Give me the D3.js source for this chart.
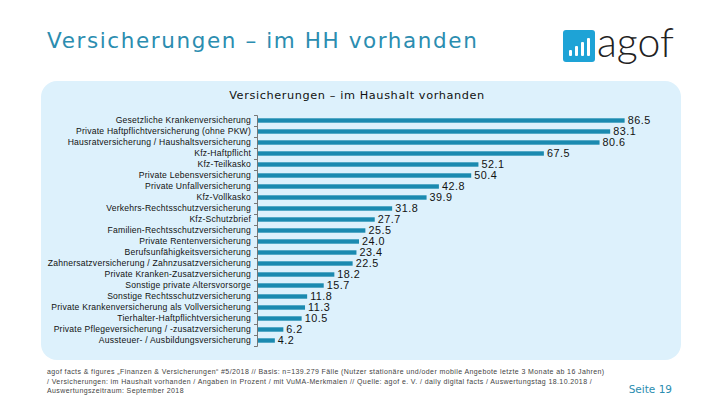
<!DOCTYPE html>
<html>
<head>
<meta charset="utf-8">
<script src="https://cdn.jsdelivr.net/npm/d3@7"></script>
<style>
  body { margin: 0; background: #fff; }
  svg { display: block; }
</style>
</head>
<body>
<div id="chart"></div>
<script>
// chart data
const categories = [
  'Gesetzliche Krankenversicherung',
  'Private Haftpflichtversicherung (ohne PKW)',
  'Hausratversicherung / Haushaltsversicherung',
  'Kfz-Haftpflicht',
  'Kfz-Teilkasko',
  'Private Lebensversicherung',
  'Private Unfallversicherung',
  'Kfz-Vollkasko',
  'Verkehrs-Rechtsschutzversicherung',
  'Kfz-Schutzbrief',
  'Familien-Rechtsschutzversicherung',
  'Private Rentenversicherung',
  'Berufsunfähigkeitsversicherung',
  'Zahnersatzversicherung / Zahnzusatzversicherung',
  'Private Kranken-Zusatzversicherung',
  'Sonstige private Altersvorsorge',
  'Sonstige Rechtsschutzversicherung',
  'Private Krankenversicherung als Vollversicherung',
  'Tierhalter-Haftpflichtversicherung',
  'Private Pflegeversicherung / -zusatzversicherung',
  'Aussteuer- / Ausbildungsversicherung'
];
const values = [86.5, 83.1, 80.6, 67.5, 52.1, 50.4, 42.8, 39.9, 31.8, 27.7, 25.5,
  24.0, 23.4, 22.5, 18.2, 15.7, 11.8, 11.3, 10.5, 6.2, 4.2];

const footLines = [
  'agof facts & figures \u201eFinanzen & Versicherungen\u201c #5/2018 // Basis: n=139.279 Fälle (Nutzer stationäre und/oder mobile Angebote letzte 3 Monate ab 16 Jahren)',
  '/ Versicherungen: im Haushalt vorhanden / Angaben in Prozent / mit VuMA-Merkmalen // Quelle: agof e. V. / daily digital facts / Auswertungstag 18.10.2018 /',
  'Auswertungszeitraum: September 2018'
];

const W = 720, H = 405;
const teal = '#2b8db0';
const barColor = '#1b8ab0';

const svg = d3.select('#chart').append('svg')
  .attr('width', W)
  .attr('height', H);

// page title
svg.append('text')
  .attr('x', 47).attr('y', 48)
  .style('font-family', 'DejaVu Sans, sans-serif')
  .style('font-size', '21.5px')
  .style('letter-spacing', '1.6px')
  .attr('fill', teal)
  .text('Versicherungen – im HH vorhanden');

// agof logo
const logo = svg.append('g').attr('transform', 'translate(563,30)');
logo.append('rect')
  .attr('width', 32).attr('height', 32).attr('rx', 3)
  .attr('fill', '#1ea3d6');
[[6, 20], [12, 16], [18, 12], [24, 8]].forEach(b => {
  logo.append('rect')
    .attr('x', b[0]).attr('y', b[1]).attr('width', 3).attr('height', 26 - b[1])
    .attr('rx', 1).attr('fill', '#fff');
});
svg.append('text')
  .attr('x', 597).attr('y', 57)
  .style('font-family', 'Lato, sans-serif')
  .style('font-weight', 300)
  .style('font-size', '41px')
  .attr('fill', '#222')
  .text('agof');

// panel
svg.append('rect')
  .attr('x', 41).attr('y', 81)
  .attr('width', 640).attr('height', 279)
  .attr('rx', 16)
  .attr('fill', '#ddf1fc');

svg.append('text')
  .attr('x', 357).attr('y', 99)
  .attr('text-anchor', 'middle')
  .style('font-family', 'DejaVu Sans, sans-serif')
  .style('font-size', '11.3px')
  .style('letter-spacing', '0.6px')
  .attr('fill', '#111')
  .text('Versicherungen – im Haushalt vorhanden');

// scales
const plotLeft = 257, plotTop = 115, plotBottom = 346;
const x = d3.scaleLinear()
  .domain([0, 100])
  .range([plotLeft, plotLeft + 425]);

const y = d3.scaleBand()
  .domain(categories)
  .range([plotTop, plotBottom])
  .paddingInner(0.6)
  .paddingOuter(0.3);

// bars
svg.selectAll('.bar')
  .data(values)
  .enter().append('rect')
  .attr('class', 'bar')
  .attr('x', x(0))
  .attr('y', (d, i) => y(categories[i]))
  .attr('width', d => x(d) - x(0))
  .attr('height', y.bandwidth())
  .attr('fill', barColor);

// value labels
svg.selectAll('.val')
  .data(values)
  .enter().append('text')
  .attr('class', 'val')
  .attr('x', d => x(d) + 3)
  .attr('y', (d, i) => y(categories[i]) + y.bandwidth() / 2)
  .attr('dy', '0.36em')
  .style('font-family', 'Liberation Sans, Arial, sans-serif')
  .style('font-size', '10.8px')
  .style('letter-spacing', '0.5px')
  .attr('fill', '#111')
  .text(d => d.toFixed(1));

// category axis (labels)
const yAxis = svg.append('g')
  .attr('transform', `translate(${plotLeft},0)`)
  .call(d3.axisLeft(y).tickSize(0).tickPadding(6));
yAxis.select('.domain').remove();
yAxis.selectAll('text')
  .style('font-family', 'Liberation Sans, Arial, sans-serif')
  .style('font-size', '8.6px')
  .style('letter-spacing', '0.22px')
  .attr('fill', '#111');

// axis line with ticks at band edges
const edge = d3.scaleLinear().domain([0, categories.length]).range([plotTop, plotBottom]);
const edgeAxis = svg.append('g')
  .attr('transform', `translate(${plotLeft},0)`)
  .call(d3.axisLeft(edge).ticks(categories.length).tickSize(3).tickSizeOuter(3).tickFormat(''));
edgeAxis.selectAll('path, line').attr('stroke', '#777');

// footnote
svg.append('g').selectAll('text')
  .data(footLines)
  .enter().append('text')
  .attr('x', 47)
  .attr('y', (d, i) => 374 + i * 9.5)
  .style('font-family', 'Liberation Sans, Arial, sans-serif')
  .style('font-size', '7px')
  .style('letter-spacing', '0.4px')
  .attr('fill', '#444')
  .text(d => d);

svg.append('text')
  .attr('x', 672).attr('y', 393)
  .attr('text-anchor', 'end')
  .style('font-family', 'DejaVu Sans, sans-serif')
  .style('font-size', '10.5px')
  .attr('fill', teal)
  .text('Seite 19');
</script>
</body>
</html>
